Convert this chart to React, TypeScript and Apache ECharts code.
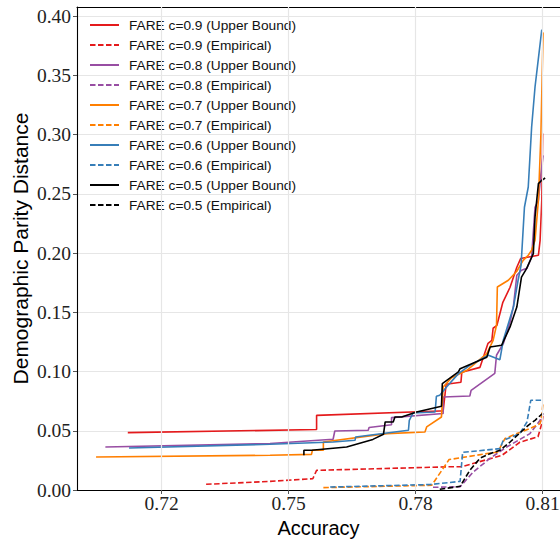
import React, { useEffect, useRef } from "react";
import * as echarts from "echarts";

const X_MIN = 0.7;
const X_MAX = 0.8141;
const Y_MIN = 0;
const Y_MAX = 0.4076;
const X_TICKS = [0.72, 0.75, 0.78, 0.81];
const Y_TICKS = [0, 0.05, 0.1, 0.15, 0.2, 0.25, 0.3, 0.35, 0.4];

const red = "#e41a1c";
const purple = "#984ea3";
const orange = "#ff7f00";
const blue = "#377eb8";
const black = "#000000";

const redUpper = [
  [0.712, 0.0484], [0.7566, 0.051], [0.7566, 0.063], [0.7857, 0.0667], [0.7865, 0.0667],
  [0.7872, 0.0892], [0.7907, 0.0909], [0.7909, 0.0993], [0.7952, 0.1035], [0.7971, 0.1238],
  [0.798, 0.1263], [0.7983, 0.1365], [0.7992, 0.139], [0.8006, 0.1584], [0.8023, 0.1711],
  [0.8039, 0.188], [0.8048, 0.1953], [0.809, 0.1981], [0.8094, 0.2107], [0.8098, 0.2445],
  [0.81, 0.3008],
];
const redEmp = [
  [0.7305, 0.0048], [0.7456, 0.0073], [0.7557, 0.0095], [0.7566, 0.0166], [0.7881, 0.0196],
  [0.7909, 0.0196], [0.8004, 0.0293], [0.8046, 0.0403], [0.8089, 0.0449], [0.8098, 0.056],
  [0.8101, 0.063],
];
const purpleUpper = [
  [0.7067, 0.0363], [0.7456, 0.0392], [0.7605, 0.0428], [0.7609, 0.0498], [0.7688, 0.0504],
  [0.769, 0.0527], [0.7743, 0.055], [0.7743, 0.0611], [0.7865, 0.0645], [0.7865, 0.0785],
  [0.7928, 0.0793], [0.7931, 0.0841], [0.7987, 0.0985], [0.7991, 0.1137], [0.8007, 0.1235],
  [0.8023, 0.1418], [0.8031, 0.155], [0.8039, 0.1812], [0.805, 0.1854], [0.8063, 0.1871],
  [0.8074, 0.1966], [0.8082, 0.2386], [0.809, 0.2445], [0.8096, 0.267], [0.8101, 0.2824],
];
const purpleEmp = [
  [0.7841, 0.0023], [0.7905, 0.0027], [0.7936, 0.0152], [0.7976, 0.0268], [0.8015, 0.0363],
  [0.807, 0.0476], [0.8094, 0.0588], [0.8101, 0.0645],
];
const orangeUpper = [
  [0.7045, 0.0278], [0.7456, 0.0293], [0.7554, 0.0301], [0.7556, 0.0335], [0.7582, 0.0335],
  [0.7582, 0.0405], [0.7732, 0.0476], [0.7822, 0.0489], [0.7826, 0.0532], [0.7861, 0.0616],
  [0.7865, 0.0869], [0.7885, 0.0947], [0.7921, 0.101], [0.7968, 0.1151], [0.7983, 0.1263],
  [0.7991, 0.139], [0.7993, 0.1713], [0.8019, 0.177], [0.8039, 0.1846], [0.8054, 0.1938],
  [0.8066, 0.1981], [0.8074, 0.2023], [0.8082, 0.2107], [0.809, 0.2445], [0.8096, 0.301],
  [0.8101, 0.3862],
];
const orangeEmp = [
  [0.7582, 0.002], [0.7838, 0.004], [0.7879, 0.0257], [0.7994, 0.0321], [0.8011, 0.0434],
  [0.8039, 0.0476], [0.807, 0.0518], [0.8094, 0.056], [0.8098, 0.063], [0.8101, 0.0743],
];
const blueUpper = [
  [0.7123, 0.0354], [0.7456, 0.0386], [0.7605, 0.0405], [0.7657, 0.042], [0.7658, 0.0447],
  [0.7783, 0.0504], [0.7785, 0.0588], [0.7794, 0.065], [0.7846, 0.0658], [0.7849, 0.0791],
  [0.7857, 0.0799], [0.7873, 0.0869], [0.7901, 0.0982], [0.7928, 0.1052], [0.7972, 0.1137],
  [0.7999, 0.11], [0.8007, 0.1263], [0.8031, 0.1544], [0.8042, 0.177], [0.8049, 0.1896],
  [0.8057, 0.2386], [0.8066, 0.2557], [0.8074, 0.3063], [0.8082, 0.3401], [0.8098, 0.3885],
];
const blueEmp = [
  [0.7598, 0.0025], [0.7834, 0.0046], [0.7905, 0.0073], [0.7911, 0.0318], [0.7999, 0.0349],
  [0.8007, 0.0419], [0.8046, 0.0476], [0.8063, 0.0574], [0.8072, 0.0757], [0.8098, 0.0757],
];
const blackUpper = [
  [0.7536, 0.0293], [0.7536, 0.0335], [0.7554, 0.0335], [0.7637, 0.0363], [0.7699, 0.0427],
  [0.7724, 0.047], [0.7728, 0.0574], [0.7747, 0.0574], [0.7751, 0.0616], [0.7767, 0.0616],
  [0.7802, 0.0658], [0.7861, 0.0706], [0.7863, 0.0898], [0.7901, 0.0996], [0.7905, 0.1024],
  [0.7968, 0.112], [0.7976, 0.1207], [0.8003, 0.1221], [0.8023, 0.1376], [0.8039, 0.1544],
  [0.805, 0.1797], [0.8062, 0.1868], [0.8078, 0.1995], [0.8082, 0.2304], [0.809, 0.2586],
  [0.8098, 0.2614], [0.8106, 0.2633],
];
const blackEmp = [
  [0.7857, 0.0006], [0.7905, 0.0031], [0.7928, 0.0166], [0.7952, 0.0268], [0.7976, 0.0307],
  [0.7999, 0.0335], [0.8023, 0.0405], [0.8066, 0.0546], [0.8082, 0.0588], [0.8101, 0.065],
];

const SERIES = [
  { name: "FARE c=0.9 (Upper Bound)", data: redUpper, color: red, dashed: false },
  { name: "FARE c=0.9 (Empirical)", data: redEmp, color: red, dashed: true },
  { name: "FARE c=0.8 (Upper Bound)", data: purpleUpper, color: purple, dashed: false },
  { name: "FARE c=0.8 (Empirical)", data: purpleEmp, color: purple, dashed: true },
  { name: "FARE c=0.7 (Upper Bound)", data: orangeUpper, color: orange, dashed: false },
  { name: "FARE c=0.7 (Empirical)", data: orangeEmp, color: orange, dashed: true },
  { name: "FARE c=0.6 (Upper Bound)", data: blueUpper, color: blue, dashed: false },
  { name: "FARE c=0.6 (Empirical)", data: blueEmp, color: blue, dashed: true },
  { name: "FARE c=0.5 (Upper Bound)", data: blackUpper, color: black, dashed: false },
  { name: "FARE c=0.5 (Empirical)", data: blackEmp, color: black, dashed: true },
];

const SANS = '"Liberation Sans", Arial, Helvetica, sans-serif';
const SERIF = '"Liberation Serif", "Times New Roman", serif';
const GRID_COLOR = "#e6e6e6";

export default function App() {
  const ref = useRef<HTMLDivElement>(null);
  useEffect(() => {
    if (!ref.current) return;
    const chart = echarts.init(ref.current, null, { renderer: "svg" });
    const lineSeries = SERIES.map((s) => ({
      name: s.name,
      type: "line",
      data: s.data,
      symbol: "none",
      showSymbol: false,
      z: 3,
      color: s.color,
      lineStyle: {
        color: s.color,
        width: 1.6,
        type: s.dashed ? [5.5, 2.5] : "solid",
      },
    }));
    const option: any = {
      animation: false,
      backgroundColor: "#ffffff",
      grid: {
        left: 77,
        right: 0,
        top: 7,
        bottom: 49,
        containLabel: false,
        outerBoundsMode: "none",
      },
      legend: {
        data: SERIES.map((s) => s.name),
        orient: "vertical",
        left: 89,
        top: 18,
        padding: 0,
        itemWidth: 29,
        itemHeight: 14,
        itemGap: 6,
        itemStyle: { opacity: 0 },
        textStyle: { fontFamily: SANS, fontSize: 13.7, color: "#111", padding: [0, 0, 0, 5] },
        selectedMode: false,
      },
      xAxis: [
        {
          type: "value",
          min: X_MIN,
          max: X_MAX,
          position: "bottom",
          axisLine: { show: true, onZero: false, lineStyle: { color: "#000", width: 1.1 } },
          axisTick: { show: true, customValues: X_TICKS, length: 4, lineStyle: { color: "#555" } },
          axisLabel: {
            customValues: X_TICKS,
            formatter: (v: number) => v.toFixed(2),
            fontFamily: SERIF,
            fontSize: 19.5,
            color: "#222",
            margin: 3,
          },
          splitLine: { show: false },
          name: "Accuracy",
          nameLocation: "middle",
          nameGap: 22,
          nameTextStyle: { fontFamily: SANS, fontSize: 20, color: "#000" },
        },
        {
          type: "value",
          min: X_MIN,
          max: X_MAX,
          position: "top",
          axisLine: { show: true, onZero: false, lineStyle: { color: "#000", width: 1.1 } },
          axisTick: { show: false },
          axisLabel: { show: false },
          splitLine: { show: false },
        },
      ],
      yAxis: {
        type: "value",
        min: Y_MIN,
        max: Y_MAX,
        interval: 0.05,
        axisLine: { show: true, onZero: false, lineStyle: { color: "#000", width: 1.1 } },
        axisTick: { show: true, customValues: Y_TICKS, length: 4, lineStyle: { color: "#555" } },
        axisLabel: {
          customValues: Y_TICKS,
          formatter: (v: number) => v.toFixed(2),
          fontFamily: SERIF,
          fontSize: 19.5,
          color: "#222",
          margin: 6,
        },
        splitLine: { show: true, lineStyle: { color: GRID_COLOR, width: 1.2 } },
        name: "Demographic Parity Distance",
        nameLocation: "middle",
        nameGap: 46,
        nameMoveOverlap: false,
        nameTextStyle: { fontFamily: SANS, fontSize: 21, color: "#000" },
      },
      series: [
        {
          name: "__grid",
          type: "line",
          data: [],
          symbol: "none",
          silent: true,
          z: 1,
          markLine: {
            silent: true,
            symbol: ["none", "none"],
            label: { show: false },
            lineStyle: { color: GRID_COLOR, width: 1.2, type: "solid" },
            emphasis: { disabled: true },
            data: X_TICKS.map((v) => ({ xAxis: v })),
          },
        },
        ...lineSeries,
      ],
    };
    chart.setOption(option);
    return () => chart.dispose();
  }, []);
  return (
    <div
      ref={ref}
      style={{ position: "fixed", left: 0, top: 0, width: 560, height: 539, background: "#fff" }}
    />
  );
}
